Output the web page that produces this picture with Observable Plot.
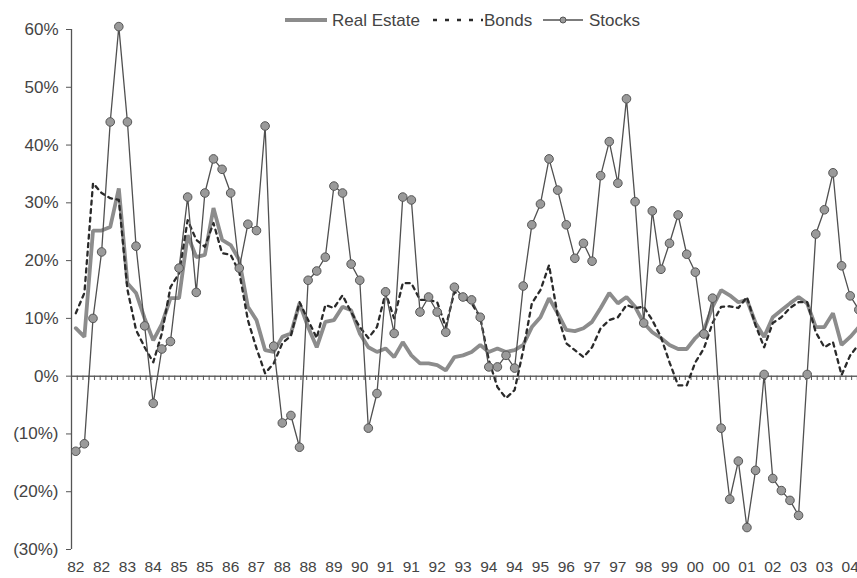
<!DOCTYPE html>
<html>
<head>
<meta charset="utf-8">
<script src="https://cdn.jsdelivr.net/npm/d3@7"></script>
<script src="https://cdn.jsdelivr.net/npm/@observablehq/plot@0.6"></script>
<style>
  html, body { margin: 0; padding: 0; background: #fff; overflow: hidden; }
  #wrap { position: relative; width: 857px; height: 578px; font-family: "Liberation Sans", Arial, sans-serif; color: #444; }
  #legend { position: absolute; top: 0; left: 0; width: 857px; height: 40px; pointer-events: none; }
  #legend .sw { position: absolute; top: 14px; }
  #legend .lt { position: absolute; top: 11px; font-size: 17px; line-height: 19px; white-space: nowrap; }
</style>
</head>
<body>
<div id="wrap">
  <div id="chart"></div>
  <div id="legend"></div>
</div>
<script>
// Quarterly total returns (%), 1982 Q1 onward
const quarterLabels = ["82","82","83","84","85","85","86","87","88","88","89","90","91","91","92","93","94","94","95","96","97","97","98","99","00","00","01","02","03","03","04"];

const realEstate = [8.3, 6.8, 25.2, 25.2, 25.8, 32.5, 16.1, 14.4, 10.0, 6.2,
  9.0, 13.5, 13.5, 24.4, 20.6, 21.0, 29.1, 23.6, 22.7, 20.1,
  12.0, 9.7, 4.5, 4.2, 6.8, 7.4, 12.6, 8.5, 5.0, 9.4,
  9.7, 12.0, 11.4, 7.4, 5.0, 4.2, 4.8, 3.3, 5.9, 3.6,
  2.2, 2.2, 1.9, 1.0, 3.3, 3.6, 4.2, 5.4, 4.2, 4.8,
  4.2, 4.5, 5.4, 8.5, 10.2, 13.5, 10.9, 8.0, 7.8, 8.3,
  9.4, 11.8, 14.4, 12.6, 13.7, 12.0, 9.2, 7.6, 6.6, 5.4,
  4.7, 4.7, 6.6, 8.0, 12.0, 14.9, 14.0, 12.8, 13.2, 9.2,
  6.8, 10.2, 11.4, 12.6, 13.7, 12.6, 8.5, 8.5, 10.9, 5.4,
  6.8, 8.5];

const bonds = [10.9, 14.4, 33.4, 31.7, 30.8, 30.5, 15.0, 8.0, 5.0, 2.4,
  7.4, 15.4, 17.8, 27.0, 23.6, 22.4, 26.5, 21.3, 21.0, 18.0,
  9.7, 4.8, 0.5, 2.2, 5.7, 7.0, 12.8, 9.7, 6.6, 12.3,
  11.8, 14.0, 11.1, 8.5, 6.6, 8.5, 14.4, 10.0, 16.1, 16.1,
  13.2, 13.2, 12.8, 8.5, 14.6, 13.7, 12.6, 10.2, 2.8, -1.9,
  -3.8, -2.4, 4.5, 12.6, 14.9, 19.2, 10.5, 5.7, 4.5, 3.3,
  5.0, 8.3, 9.7, 10.2, 12.3, 11.8, 12.0, 9.7, 6.8, 2.4,
  -1.6, -1.6, 2.4, 4.8, 9.2, 12.0, 12.1, 11.8, 13.7, 8.8,
  5.0, 9.2, 10.2, 11.8, 12.8, 12.8, 7.6, 5.0, 5.9, 0.2,
  3.6, 5.5];

const stocks = [-13.0, -11.7, 10.0, 21.5, 44.0, 60.5, 44.0, 22.5, 8.7, -4.7,
  4.7, 6.0, 18.7, 31.0, 14.5, 31.7, 37.6, 35.8, 31.7, 18.7,
  26.3, 25.2, 43.3, 5.2, -8.1, -6.8, -12.3, 16.6, 18.2, 20.6,
  32.9, 31.7, 19.4, 16.6, -9.0, -3.0, 14.6, 7.4, 31.0, 30.5,
  11.1, 13.7, 11.1, 7.6, 15.4, 13.7, 13.2, 10.2, 1.6, 1.6,
  3.6, 1.4, 15.6, 26.2, 29.8, 37.6, 32.2, 26.2, 20.4, 23.0,
  19.9, 34.7, 40.6, 33.4, 48.0, 30.2, 9.2, 28.6, 18.5, 23.0,
  27.9, 21.1, 18.0, 7.3, 13.5, -9.0, -21.3, -14.7, -26.2, -16.3,
  0.3, -17.7, -19.8, -21.5, -24.1, 0.3, 24.6, 28.8, 35.2, 19.1,
  13.9, 11.5];

const yTicks = [-30, -20, -10, 0, 10, 20, 30, 40, 50, 60];

// build tables from the arrays
const idx = d3.range(stocks.length);
const labelPos = quarterLabels.map((_, i) => i * 3);
const minorTicks = d3.range(-0.5, 91.5, 2 / 3);
const pct = d => d < 0 ? `(${-d}%)` : `${d}%`;

const chart = Plot.plot({
  width: 857,
  height: 578,
  marginLeft: 71,
  marginRight: 3,
  marginTop: 29,
  marginBottom: 29,
  x: { domain: [-0.5, 90.5] },
  y: { domain: [-30, 60] },
  style: { fontFamily: "Liberation Sans, Arial, sans-serif", color: "#444", background: "white", overflow: "hidden" },
  marks: [
    Plot.ruleY([0], { x1: -0.5, x2: 92, stroke: "#666", strokeWidth: 1.5 }),
    Plot.ruleX(minorTicks, { x: d => d, y1: 0, y2: -0.75, stroke: "#555", strokeWidth: 1 }),
    Plot.ruleX([-0.5], { y1: -30, y2: 60, stroke: "#555", strokeWidth: 1.3 }),
    Plot.axisY({ ticks: yTicks, tickFormat: pct, tickSize: 5, tickPadding: 8, fontSize: 17, stroke: "#555", label: null }),
    Plot.axisX({ ticks: labelPos, tickFormat: d => quarterLabels[Math.round(d / 3)], tickSize: 0, tickPadding: 11, fontSize: 15.5, label: null }),
    Plot.line(idx, { x: i => i, y: i => realEstate[i], stroke: "#8c8c8c", strokeWidth: 3.8, strokeLinejoin: "miter" }),
    Plot.line(idx, { x: i => i, y: i => bonds[i], stroke: "#2a2a2a", strokeWidth: 2.3, strokeDasharray: "4,4.5" }),
    Plot.line(idx, { x: i => i, y: i => stocks[i], stroke: "#505050", strokeWidth: 1.3 }),
    Plot.dot(idx, { x: i => i, y: i => stocks[i], r: 4.3, fill: "#9a9a9a", stroke: "#555", strokeWidth: 1 })
  ]
});
document.getElementById("chart").appendChild(chart);

// legend
const legend = document.getElementById("legend");
legend.innerHTML = `
  <svg class="sw" style="left:284px" width="44" height="12"><line x1="1" y1="6" x2="43" y2="6" stroke="#8c8c8c" stroke-width="3.8"/></svg>
  <span class="lt" style="left:332px">Real Estate</span>
  <svg class="sw" style="left:432px" width="52" height="12"><line x1="1" y1="6" x2="51" y2="6" stroke="#2a2a2a" stroke-width="2.3" stroke-dasharray="4,8"/></svg>
  <span class="lt" style="left:484px">Bonds</span>
  <svg class="sw" style="left:542px" width="42" height="12"><line x1="1" y1="6" x2="41" y2="6" stroke="#505050" stroke-width="1.3"/><circle cx="21" cy="6" r="3" fill="#9a9a9a" stroke="#555"/></svg>
  <span class="lt" style="left:589px">Stocks</span>
`;
</script>
</body>
</html>
